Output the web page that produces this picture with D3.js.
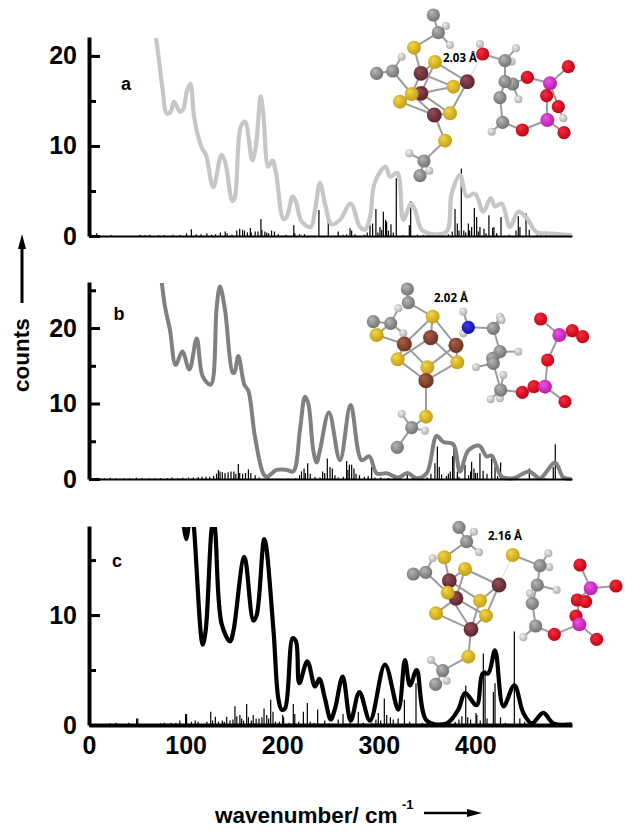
<!DOCTYPE html>
<html>
<head>
<meta charset="utf-8">
<style>
  html, body { margin: 0; padding: 0; background: #fff; }
  svg { display: block; }
  text { font-family: "Liberation Sans", Arial, sans-serif; font-weight: bold; fill: #000; }
</style>
<script src="https://cdn.jsdelivr.net/npm/d3@7"></script>
</head>
<body>
<div id="chart"></div>
<script>
// values: [wavenumber, counts]
const curveA = [[69.4,22],[72.8,19.2],[76.3,16.2],[80.4,13.6],[84.5,13.8],[88,14.9],[94.2,13.8],[97.7,14.1],[101.1,16],[104.9,16.9],[108.7,13.3],[113.9,10.7],[117.7,9.6],[121.1,9],[128.7,5.4],[137,9],[140.8,8.3],[148.4,3.9],[150.8,4.2],[157,12.1],[161.5,12.7],[169.1,8.4],[172.9,10.1],[177.7,15.5],[180.4,13.6],[185.6,7.7],[189.8,8.4],[193.6,7],[201.2,1.9],[204.6,2.1],[210.9,4.4],[214.3,3.8],[220.2,1.6],[229.5,1],[234,2.9],[239.1,5.9],[244.3,3.6],[251.2,1.3],[259.8,1.8],[270.9,3.6],[280.5,1],[285.7,0.7],[290.9,2.1],[296,6],[307.1,7.7],[311.6,6.6],[319.2,7],[325.4,1.8],[333.3,3.6],[337.5,2.9],[344.4,0.7],[356.4,0.2],[370.3,0.5],[375.4,4.7],[384,6.8],[391,4.4],[399.6,4.7],[408.2,2.7],[415.8,4.2],[420.3,3.3],[427.2,3.6],[435.8,1],[444.4,2.7],[453.1,2],[463.4,0.4],[473.8,0.3],[499.7,0.1]];
const curveB = [[75.2,26.2],[78.7,22.8],[83.9,19.7],[89.7,15.1],[96.6,16.9],[103.9,14.5],[111.5,18.6],[117.7,13.6],[126,12.5],[132.2,22.8],[135.6,25.5],[140.8,22.4],[148.7,14.1],[150.5,14.1],[154.6,16.3],[160.8,12.5],[164.9,11.7],[171.8,5.6],[180.5,0.7],[184,0.3],[194.3,1.2],[204.6,1.2],[211.5,1],[218.4,6.5],[223.6,10.9],[227,10],[232.2,3.8],[235.7,2.2],[239.1,3.8],[248.4,8.8],[259.8,2.5],[270.8,9.8],[282.2,2.5],[290.2,3],[297.8,0.75],[308.1,0.75],[320.2,0.2],[329.5,0.8],[339.2,0.1],[349.5,0.75],[359.9,5.7],[366.8,4.9],[377.1,4.6],[384,1],[392.7,3.8],[404,4.4],[411.6,3],[416.8,3.1],[427.2,0.3],[439.2,0.1],[455.8,1],[466.9,0.1],[482.4,2.2],[491,0.2],[499.6,0]];
const curveC = [[96,20],[100.4,16.9],[106.3,19.7],[108.7,17.9],[117.7,7.3],[120.8,8.6],[127,17.9],[128.7,18.5],[130.4,17.9],[137.3,9.2],[146,7.6],[149.4,8.5],[160.8,15.3],[170.1,9.5],[173.6,10],[181.5,16.9],[190.8,8.8],[196,2.4],[199.4,1.4],[202.9,1.5],[210.8,7.9],[214.3,7.6],[217.7,3.8],[226,5.8],[234,3.5],[238.4,4.2],[244.3,2.4],[250.2,0.5],[254.7,1.5],[262.6,4.4],[270.9,0.4],[279.9,3],[290.9,0.4],[306.4,5.5],[320.2,1.4],[327.1,5.9],[332.3,3.6],[339.2,5],[349.6,0.4],[370.3,0.15],[382.3,1.4],[389.3,2.9],[401.3,1.8],[407.5,4.7],[413.4,4.7],[420.3,6.8],[429,1.7],[440.3,3.6],[449.6,1.1],[458.3,0.15],[470.3,1.1],[480.7,0.15],[500,0.05]];

const sticksA = [[8,0.3],[23,0.1],[53,0.15],[58,0.1],[63,0.15],[72,0.1],[78,0.1],[87,0.15],[94,0.1],[101,0.3],[106,0.75],[111,0.2],[116,0.2],[122,0.3],[127,0.15],[131,0.2],[136,0.4],[141,0.5],[143,0.3],[148,0.15],[153,0.6],[156,0.8],[159,0.7],[161,0.6],[164,0.4],[167,0.9],[168,0.4],[172,0.5],[175,0.5],[178,1.9],[179,0.7],[182,0.5],[184,0.4],[186,0.3],[189,0.6],[192,0.5],[196,0.2],[204,0.15],[212,1.2],[213,0.3],[218,0.2],[223,0.2],[238,2.9],[247.7,1.95],[258,0.5],[263,0.15],[266.7,0.2],[270.2,0.85],[271.9,0.6],[275.3,0.2],[285,0.15],[288,0.4],[290.9,1.2],[293.6,1.4],[297,3],[299,0.4],[301.2,1],[303,0.7],[304.7,2.7],[307,1.8],[308.1,1.6],[310,0.6],[312.6,1.3],[315,0.4],[318.1,6.4],[325,0.1],[331.6,1.2],[333,3.9],[340,0.15],[346,0.1],[351.2,0.4],[372,0.2],[376,0.5],[378.9,3],[381.3,1.4],[383,0.6],[385.4,7.5],[388,0.6],[390,0.4],[392.7,1.4],[394,0.6],[396.1,1],[398.9,3.1],[401.3,2.1],[403,0.5],[404.7,1],[408.9,0.8],[411,0.3],[414,2.3],[417.8,0.9],[419.2,1],[422,0.3],[426.5,2.1],[435,0.15],[442,0.6],[444.4,2.2],[446.1,1],[452.4,2.5],[455.8,0.7],[464,0.1],[468,0.15],[473,0.1],[478,0.15],[485,0.1],[492,0.1],[497,0.1]];
const sticksB = [[10,0.1],[16,0.1],[22,0.15],[28,0.1],[36,0.1],[42,0.1],[49,0.15],[55,0.1],[62,0.1],[68,0.1],[74,0.1],[81,0.1],[86,0.2],[92,0.1],[97,0.15],[103,0.2],[108,0.2],[113,0.25],[117,0.3],[121,0.3],[125,0.3],[129,0.4],[132,0.7],[133.9,1.2],[135.6,1],[138,0.9],[140.8,0.8],[144,0.9],[147,1],[150,1],[152,0.7],[154.6,2],[156,0.8],[159,0.7],[162,0.8],[165,1.3],[167.5,0.8],[172,0.5],[176,0.2],[186,0.1],[194,0.05],[206,0.05],[214,0.1],[218,0.5],[220,1],[222.6,1.4],[224,0.8],[226.4,2.1],[229,0.7],[234,0.3],[239,0.2],[241.9,1],[244,0.8],[246.7,2.7],[249.5,1.6],[251.9,1.4],[254.6,0.5],[258,0.2],[263.3,0.3],[266.7,2.4],[268,1.2],[269.5,1.9],[271.9,1.9],[274.3,1.4],[276.4,0.7],[280,0.5],[285,0.3],[289,0.4],[292.6,1.6],[296,0.2],[302,0.2],[310,0.15],[316,0.1],[322,0.1],[329.5,0.75],[335,0.15],[341,0.1],[350,0.2],[354,0.7],[358.1,2.1],[360.6,4.3],[362.6,1.6],[365,0.6],[370,0.4],[372,0.7],[374,1],[376.4,3],[377.8,4.3],[381.3,1],[383,0.3],[389.2,1.9],[393,0.5],[395,1],[396.1,2.3],[398.5,1.4],[400,0.8],[402,0.8],[404.7,3.4],[408,1.1],[412,0.7],[416.8,2.7],[420.3,1.6],[423,0.4],[426.1,2.2],[433,0.15],[441,0.1],[455.8,1.4],[460,0.1],[472,0.1],[480.6,1.6],[482.7,4.6],[490,0.15]];
const sticksC = [[12,0.1],[22,0.15],[28,0.2],[33,0.1],[41,0.2],[49.3,0.6],[50.5,0.6],[68,0.1],[74,0.15],[78,0.2],[85,0.2],[90,0.2],[94,0.4],[100,1],[101,1],[106,0.3],[110,0.4],[113,0.3],[122,0.3],[126,1.2],[128,0.4],[130.8,0.75],[134,0.3],[138,0.4],[140,0.3],[142.5,0.75],[146,0.4],[149,0.5],[151.1,1.7],[153,0.8],[156.2,0.9],[158,0.6],[160,0.4],[163.2,1.9],[165,0.7],[168,0.4],[170,0.9],[173,0.6],[176,0.6],[179,0.7],[181.2,1.5],[184,0.9],[186,0.6],[188.1,2.3],[190.5,1.2],[193,0.3],[197,0.3],[200.5,0.9],[201.5,0.7],[207,0.2],[211.5,1.9],[213,1],[217,0.3],[221.9,1.2],[226,2],[229,0.3],[233,0.2],[236.7,1.4],[244,0.4],[249,0.15],[258,0.5],[263,1],[270,0.2],[278.8,1.2],[284,0.2],[293,0.2],[297,0.5],[299.5,1.1],[302,0.4],[305.7,2.4],[308.2,0.9],[312,0.7],[315,0.5],[320,0.6],[326.5,2.3],[332,0.3],[338.5,3.8],[345,0.2],[372,0.1],[379,0.3],[383,0.5],[386,0.8],[390,3.6],[392,0.7],[395,0.5],[400.6,1.1],[401.5,0.9],[405,0.4],[408.2,6.5],[410,5],[412,0.6],[418.6,3],[420.3,3.8],[426,0.7],[431,0.2],[440.3,8.5],[446,0.6],[451,0.3],[456,0.1],[470,0.1]];

const yTicksA = [0, 10, 20];
const yMinorA = [5, 15];
const yTicksB = [0, 10, 20];
const yMinorB = [5, 15, 25];
const yTicksC = [0, 10];
const yMinorC = [5, 15];
const xTicks = [0, 100, 200, 300, 400];

// molecule sketches: atom id, x, y (in the inset's own units)
const atomsA = [['C1',340,45],['H1',378,78],['H2',390,135],['C2',355,98],['S1',282,143],['H3',245,170],['C3',170,220],['C4',218,213],['Fe1',303,220],['Fe2',303,280],['S2',345,186],['Fe3',442,245],['S3',400,260],['S4',240,305],['S5',275,282],['Fe4',343,345],['S6',390,340],['S7',375,422],['H4',268,460],['C5',312,483],['H5',328,512],['C6',300,527],['H6',480,132],['O1',488,162],['H7',588,145],['H8',575,185],['C7',555,182],['H9',595,298],['C8',578,252],['C9',555,245],['O2',622,232],['C10',540,293],['H10',515,395],['C11',548,367],['O3',607,390],['P1',690,250],['O4',745,200],['O5',680,287],['H11',730,355],['O6',715,320],['P2',682,360],['O7',732,398]];
const bondsA = ['C1-C2','C2-H1','C2-H2','C2-S1','S1-Fe1','Fe1-S2','S2-Fe3','Fe3-S3','Fe1-S3','S3-Fe2','Fe3-S6','S2-Fe2','Fe1-S5','Fe2-S4','S4-Fe4','S5-Fe4','Fe4-S6','Fe2-S6','Fe4-S7','S7-C5','C5-C6','C5-H4','C5-H5','C3-C4','C4-H3','C4-S5','O1-H6','O1-C7','C7-H7','C7-H8','C7-C9','C9-C8','C8-O2','O2-P1','P1-O4','P1-O5','P1-O6','O5-P2','O6-H11','P2-O7','P2-O3','O3-C11','C11-H10','C11-C10','C10-C9','C8-H9'];
const hbondA = ['Fe3', 'O1'];

const atomsB = [['C1',262,57],['C2',265,98],['H1',235,115],['C3',160,155],['C4',212,160],['S2',170,195],['H2',250,190],['S1',338,140],['Fe1',253,222],['Fe2',332,203],['Fe3',408,226],['S3',233,268],['S4',412,277],['S5',322,292],['Fe4',318,332],['H3',245,432],['S6',318,440],['H4',315,482],['C5',275,473],['C6',232,532],['H5',430,125],['H6',430,190],['N1',445,172],['H7',540,140],['H8',545,150],['C7',520,175],['H9',595,245],['C8',540,245],['H10',468,292],['C10',518,265],['C9',520,280],['H11',550,315],['H12',512,388],['H13',540,385],['C11',542,360],['O2',642,350],['O1',607,367],['P1',675,350],['O3',735,395],['O4',683,270],['O5',662,147],['O6',757,182],['O7',788,200],['P2',718,195]];
const bondsB = ['C1-C2','C2-S1','S1-Fe2','S1-Fe3','S1-Fe1','C3-C4','C4-H1','C4-H2','C4-S2','S2-Fe1','Fe1-S3','Fe1-S5','Fe2-S3','Fe2-S4','Fe3-S4','Fe3-S5','S3-Fe4','S4-Fe4','S5-Fe4','Fe4-S6','S6-C5','C5-C6','C5-H3','C5-H4','N1-H5','N1-H6','N1-C7','C7-H7','C7-H8','C7-C8','C8-H9','C8-C9','C9-C10','C9-H10','C9-C11','C11-H11','C11-H12','C11-H13','C11-O1','O1-P1','P1-O2','P1-O3','P1-O4','O4-P2','P2-O5','P2-O6','P2-O7'];

const atomsC = [['C1',387,52],['H1',432,65],['H2',447,127],['C2',410,95],['S1',343,142],['H3',308,145],['C4',250,192],['C3',287,187],['S2',405,177],['Fe1',358,212],['Fe3',378,265],['Fe2',507,225],['S3',353,248],['S4',450,272],['S5',318,310],['S6',468,317],['Fe4',423,358],['S7',415,440],['H4',303,450],['C5',338,482],['H5',350,512],['C6',317,523],['S8',548,135],['H6',655,130],['H7',658,172],['C7',630,167],['H8',680,240],['C8',622,225],['H9',600,250],['C9',607,280],['H10',580,382],['C10',617,348],['O1',673,373],['O3',738,318],['P1',748,343],['O2',800,388],['O4',742,270],['O5',767,275],['P2',782,235],['O6',750,165],['O7',858,228]];
const bondsC = ['C1-C2','C2-H1','C2-H2','C2-S1','S1-Fe1','C4-C3','C3-H3','C3-S3','S2-Fe1','S2-Fe2','S2-Fe3','Fe1-S3','Fe1-S4','Fe2-S4','Fe2-S6','Fe3-S3','Fe3-S5','Fe3-S6','S5-Fe4','S4-Fe4','S6-Fe4','S3-Fe4','Fe4-S7','S7-C5','C5-C6','C5-H4','C5-H5','S8-C7','C7-H6','C7-H7','C7-C8','C8-H8','C8-C9','C9-H9','C9-C10','C10-H10','C10-O1','O1-P1','P1-O2','P1-O3','P1-O4','O5-P2','O4-P2','P2-O6','P2-O7'];
const hbondC = ['Fe2', 'S8'];

const width = 642, height = 834;
const svg = d3.select('#chart').append('svg')
    .attr('width', width)
    .attr('height', height)
    .attr('viewBox', `0 0 ${width} ${height}`)
    .style('background', '#fff');
const defs = svg.append('defs');

const x = d3.scaleLinear().domain([0, 500]).range([89, 572]);

// Atom look, one radial gradient per element
const elements = {
    C:  { r: 6.6, light: '#b8b8b8', dark: '#6e6e6e' },
    H:  { r: 4, light: '#f2f2f2', dark: '#a8a8a8' },
    S:  { r: 7, light: '#f5d84a', dark: '#c09a10' },
    Fe: { r: 7.4, light: '#96505a', dark: '#5a2228' },
    Fb: { r: 7.6, light: '#a4604a', dark: '#6c3020' },
    O:  { r: 6.6, light: '#f23040', dark: '#c00012' },
    P:  { r: 7, light: '#ea55e0', dark: '#b818a8' },
    N:  { r: 6.6, light: '#3a3af0', dark: '#10109a' }
};
Object.entries(elements).forEach(([key, e]) => {
    const g = defs.append('radialGradient')
        .attr('id', `atom-${key}`)
        .attr('cx', '45%').attr('cy', '45%').attr('r', '60%')
        .attr('fx', '35%').attr('fy', '30%');
    g.append('stop').attr('offset', '0%').attr('stop-color', e.light);
    g.append('stop').attr('offset', '100%').attr('stop-color', e.dark);
});

function drawPanel(opts) {
    const y = d3.scaleLinear().domain([0, opts.top]).range([opts.y0, opts.yTop]);
    const g = svg.append('g');

    g.append('clipPath').attr('id', `clip-${opts.name}`)
        .append('rect')
        .attr('x', x(0)).attr('y', opts.yClip)
        .attr('width', x(500) - x(0)).attr('height', opts.y0 - opts.yClip + 4);

    // sticks under the broadened curve
    g.append('g').selectAll('line')
        .data(opts.sticks)
        .enter()
        .append('line')
        .attr('x1', d => x(d[0]))
        .attr('x2', d => x(d[0]))
        .attr('y1', y(0))
        .attr('y2', d => y(d[1]))
        .attr('stroke', '#000')
        .attr('stroke-width', 1.2);

    const line = d3.line()
        .x(d => x(d[0]))
        .y(d => y(d[1]))
        .curve(d3.curveCatmullRom.alpha(0.5));

    g.append('path')
        .datum(opts.curve)
        .attr('d', line)
        .attr('fill', 'none')
        .attr('stroke', opts.color)
        .attr('stroke-width', opts.lineWidth)
        .attr('stroke-linejoin', 'round')
        .attr('clip-path', `url(#clip-${opts.name})`);

    // x baseline
    const xAxis = d3.axisBottom(x)
        .tickValues(opts.labelX ? xTicks : [])
        .tickSize(0)
        .tickSizeOuter(0)
        .tickPadding(11);
    const xg = g.append('g')
        .attr('transform', `translate(0,${y(0)})`)
        .call(xAxis);
    xg.select('.domain').attr('stroke', '#000').attr('stroke-width', opts.baseWidth);
    xg.selectAll('text').style('font-size', '25px').attr('fill', '#000');

    // y axis
    const yAxis = d3.axisLeft(y)
        .tickValues(opts.yTicks)
        .tickSize(-11)
        .tickSizeOuter(0)
        .tickPadding(12);
    const yg = g.append('g')
        .attr('transform', `translate(${x(0)},0)`)
        .call(yAxis);
    yg.select('.domain').attr('stroke', '#000').attr('stroke-width', 4);
    yg.selectAll('.tick line').attr('stroke', '#000').attr('stroke-width', 3);
    yg.selectAll('text').style('font-size', '25px').attr('fill', '#000');

    const minor = d3.axisLeft(y)
        .tickValues(opts.yMinor)
        .tickSize(-7)
        .tickSizeOuter(0)
        .tickFormat('');
    const mg = g.append('g')
        .attr('transform', `translate(${x(0)},0)`)
        .call(minor);
    mg.select('.domain').remove();
    mg.selectAll('.tick line').attr('stroke', '#000').attr('stroke-width', 3);

    g.append('text')
        .attr('x', opts.labelPos[0])
        .attr('y', opts.labelPos[1])
        .attr('text-anchor', 'middle')
        .style('font-size', '18px')
        .text(opts.name);
}

function drawMolecule(atoms, bonds, hbond, ox, oy, fe, distLabel, labelPos) {
    const mx = d3.scaleLinear().domain([0, 3]).range([ox, ox + 1]);
    const my = d3.scaleLinear().domain([0, 3]).range([oy, oy + 1]);
    const byId = new Map(atoms.map(a => [a[0], a]));
    const g = svg.append('g');

    g.selectAll('line.bond')
        .data(bonds.map(b => b.split('-')))
        .enter()
        .append('line')
        .attr('class', 'bond')
        .attr('x1', d => mx(byId.get(d[0])[1]))
        .attr('y1', d => my(byId.get(d[0])[2]))
        .attr('x2', d => mx(byId.get(d[1])[1]))
        .attr('y2', d => my(byId.get(d[1])[2]))
        .attr('stroke', '#9c9c9c')
        .attr('stroke-width', 2);

    if (hbond) {
        g.append('line')
            .attr('x1', mx(byId.get(hbond[0])[1]))
            .attr('y1', my(byId.get(hbond[0])[2]))
            .attr('x2', mx(byId.get(hbond[1])[1]))
            .attr('y2', my(byId.get(hbond[1])[2]))
            .attr('stroke', '#cfe3c4')
            .attr('stroke-width', 1);
    }

    g.selectAll('circle')
        .data(atoms)
        .enter()
        .append('circle')
        .attr('cx', d => mx(d[1]))
        .attr('cy', d => my(d[2]))
        .attr('r', d => {
            const el = d[0].replace(/\d+$/, '');
            return elements[el === 'Fe' ? fe : el].r;
        })
        .attr('fill', d => {
            const el = d[0].replace(/\d+$/, '');
            return `url(#atom-${el === 'Fe' ? fe : el})`;
        });

    g.append('text')
        .attr('x', labelPos[0])
        .attr('y', labelPos[1])
        .style('font-family', '"Open Sans", sans-serif')
        .style('font-size', '11.5px')
        .text(distLabel);
}

drawPanel({ name: 'a', curve: curveA, sticks: sticksA, color: '#c6c6c6', lineWidth: 4.2,
    y0: 236, yTop: 37, yClip: 38, top: 22.1, yTicks: yTicksA, yMinor: yMinorA,
    baseWidth: 2, labelPos: [126, 90] });
drawPanel({ name: 'b', curve: curveB, sticks: sticksB, color: '#808080', lineWidth: 4,
    y0: 479, yTop: 282, yClip: 283, top: 26.1, yTicks: yTicksB, yMinor: yMinorB,
    baseWidth: 2, labelPos: [119, 320] });
drawPanel({ name: 'c', curve: curveC, sticks: sticksC, color: '#000', lineWidth: 4.2,
    y0: 725, yTop: 526, yClip: 527, top: 18.1, yTicks: yTicksC, yMinor: yMinorC,
    baseWidth: 4, labelPos: [117, 567], labelX: true });

drawMolecule(atomsA, bondsA, hbondA, 320, 0, 'Fe', '2.03 Å', [443, 62]);
drawMolecule(atomsB, bondsB, null, 320, 270, 'Fb', '2.02 Å', [434, 302]);
drawMolecule(atomsC, bondsC, hbondC, 330, 510, 'Fe', '2.16 Å', [488, 540]);

// y title with its arrow
svg.append('text')
    .attr('transform', 'translate(29,392) rotate(-90)')
    .style('font-size', '22.5px')
    .text('counts');
svg.append('line')
    .attr('x1', 22).attr('x2', 22)
    .attr('y1', 303).attr('y2', 245)
    .attr('stroke', '#000').attr('stroke-width', 3);
svg.append('path')
    .attr('d', d3.line()([[22, 234], [26, 249], [18, 249]]) + 'Z')
    .attr('fill', '#000');

// x title with its arrow
svg.append('text')
    .attr('x', 215).attr('y', 823)
    .style('font-size', '22.5px')
    .text('wavenumber/ cm');
svg.append('text')
    .attr('x', 402).attr('y', 809)
    .style('font-size', '13px')
    .text('-1');
svg.append('line')
    .attr('x1', 424).attr('x2', 470)
    .attr('y1', 813).attr('y2', 813)
    .attr('stroke', '#000').attr('stroke-width', 2.5);
svg.append('path')
    .attr('d', d3.line()([[482, 813], [467, 809], [467, 817]]) + 'Z')
    .attr('fill', '#000');
</script>
</body>
</html>
